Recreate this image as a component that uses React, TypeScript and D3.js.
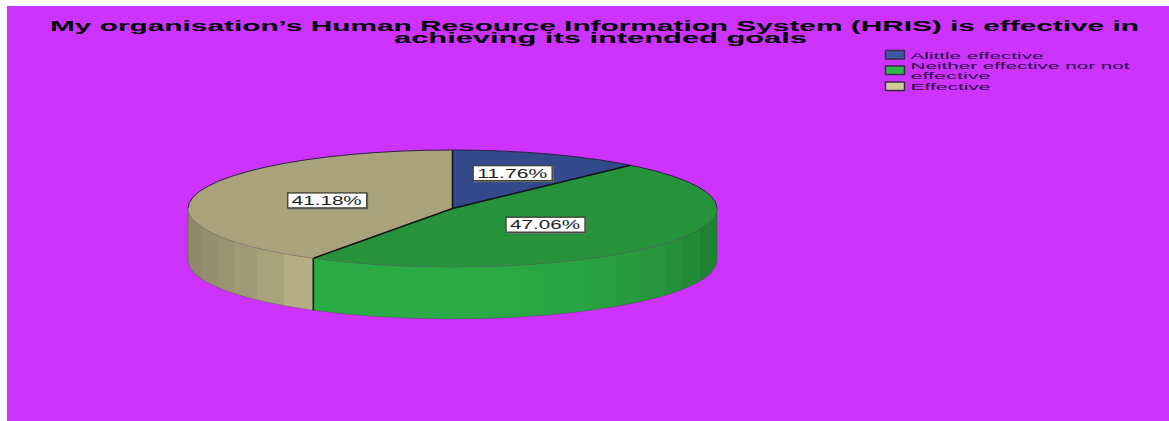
import React from "react";
import * as d3 from "d3";

// Survey responses, in drawing order (clockwise from twelve o'clock)
const categories = ["Alittle effective", "Neither effective nor not effective", "Effective"];
const percentages = [11.76, 47.06, 41.18];
const titleLines = [
  "My organisation\u2019s Human Resource Information System (HRIS) is effective in",
  "achieving its intended goals",
];
const legendLines = [["Alittle effective"], ["Neither effective nor not", "effective"], ["Effective"]];

const W = 1169;
const H = 421;
const cx = 452.5;
const cy = 208.5;
const rx = 264.5;
const ry = 58.5;
const depth = 52;

const topColors = ["#324a8c", "#26933c", "#a9a27a"];
const swatchColors = ["#3d5aa6", "#2db84b", "#d2ca98"];
// Pixel nudges that keep each value label clear of the slice edges
const labelNudge = [[0, -1], [-40, -6], [35, 2]];

// Hard-stop shading bands for the visible rim, given as [x, colour]
const rimBands: [number, string][] = [
  [188, "#8f8a68"], [202, "#94906d"], [217, "#9a9571"], [235, "#a09b76"], [257, "#a8a27b"],
  [284, "#b6af85"], [313, "#2aab45"], [487, "#2aa944"], [520, "#2aa743"], [550, "#29a442"],
  [585, "#28a040"], [615, "#279b3e"], [640, "#26953c"], [665, "#25903a"], [682, "#238a38"],
  [700, "#208233"], [717, "#208233"],
];

const pie = d3.pie<number>().sort(null).value((d) => d);
const arcs = pie(percentages);

// Unit-circle angle to a point on the flattened disc; 0 is up, angles run clockwise
const px = d3.scaleLinear().domain([-1, 1]).range([cx - rx, cx + rx]);
const py = d3.scaleLinear().domain([-1, 1]).range([cy - ry, cy + ry]);
const pt = (a: number, r = 1, dy = 0): [number, number] => [px(r * Math.sin(a)), py(-r * Math.cos(a)) + dy];

const sliceTop = (a0: number, a1: number) => {
  const [x0, y0] = pt(a0);
  const [x1, y1] = pt(a1);
  const large = a1 - a0 > Math.PI ? 1 : 0;
  return `M${cx},${cy}L${x0},${y0}A${rx},${ry} 0 ${large} 1 ${x1},${y1}Z`;
};

const rimPath = (a0: number, a1: number) => {
  const [x0, y0] = pt(a0);
  const [x1, y1] = pt(a1);
  return `M${x0},${y0}A${rx},${ry} 0 0 1 ${x1},${y1}L${x1},${y1 + depth}A${rx},${ry} 0 0 0 ${x0},${y0 + depth}Z`;
};

const LabelBox = ({ x, y, text }: { x: number; y: number; text: string }) => (
  <g>
    <rect x={x - 39} y={y - 7} width={80} height={16} fill="#77776a" />
    <rect x={x - 39.5} y={y - 7.5} width={79} height={15} fill="#fff" stroke="#44443c" strokeWidth={1.4} />
    <text
      x={x - 35.5}
      y={y + 4.4}
      textLength={70}
      lengthAdjust="spacingAndGlyphs"
      fontFamily="Liberation Sans"
      fontSize={12}
      fill="#222"
    >
      {text}
    </text>
  </g>
);

export default function App() {
  const rimStops = rimBands.flatMap(([x, color], i) => {
    const next = rimBands[i + 1]?.[0] ?? x;
    const span = rimBands[rimBands.length - 1][0] - rimBands[0][0];
    const o = (v: number) => (v - rimBands[0][0]) / span;
    return [
      <stop key={`${i}a`} offset={o(x)} stopColor={color} />,
      <stop key={`${i}b`} offset={o(next)} stopColor={color} />,
    ];
  });

  // Rim segments for the parts of each slice facing the viewer
  const rims = arcs
    .map((a) => [Math.max(a.startAngle, Math.PI / 2), Math.min(a.endAngle, (3 * Math.PI) / 2)])
    .filter(([a0, a1]) => a1 > a0);

  const sliceBoundary = pt(arcs[2].startAngle);
  const centroids = arcs.map((a) => pt((a.startAngle + a.endAngle) / 2, 0.63));

  return (
    <svg
      width={W}
      height={H}
      viewBox={`0 0 ${W} ${H}`}
      style={{ position: "absolute", left: 0, top: 0, background: "#fff" }}
    >
      <defs>
        <linearGradient id="rim" gradientUnits="userSpaceOnUse" x1={188} x2={717} y1={0} y2={0}>
          {rimStops}
        </linearGradient>
      </defs>
      <rect x={7} y={6} width={W - 7} height={H - 6} fill="#cc33ff" />

      {titleLines.map((line, i) => (
        <text
          key={line}
          x={i === 0 ? 50 : 394}
          y={i === 0 ? 30.5 : 43}
          textLength={i === 0 ? 1089 : 413}
          lengthAdjust="spacingAndGlyphs"
          fontFamily="Liberation Sans"
          fontWeight="bold"
          fontSize={14.5}
          fill="#000"
        >
          {line}
        </text>
      ))}

      {categories.map((c, i) => (
        <rect
          key={c}
          x={885.5}
          y={[50.5, 66, 82][i]}
          width={19}
          height={8.5}
          fill={swatchColors[i]}
          stroke="#3a2a4a"
          strokeWidth={1.5}
        />
      ))}
      {legendLines.flatMap((lines, i) =>
        lines.map((line, j) => (
          <text
            key={line + i}
            x={910.5}
            y={[[59], [69], [90]][i][j] ?? 79}
            textLength={[[133], [219, 80], [80]][i][j]}
            lengthAdjust="spacingAndGlyphs"
            fontFamily="Liberation Sans"
            fontSize={9.5}
            fill="#2a0a40"
          >
            {line}
          </text>
        ))
      )}

      {rims.map(([a0, a1]) => (
        <path key={a0} d={rimPath(a0, a1)} fill="url(#rim)" stroke="#3a3a30" strokeOpacity={0.6} strokeWidth={0.5} />
      ))}
      {/* divider on the rim where the green and tan slices meet */}
      <line
        x1={sliceBoundary[0]}
        y1={sliceBoundary[1]}
        x2={sliceBoundary[0]}
        y2={sliceBoundary[1] + depth}
        stroke="#111"
        strokeWidth={1.5}
      />

      {arcs.map((a, i) => (
        <path key={i} d={sliceTop(a.startAngle, a.endAngle)} fill={topColors[i]} stroke="none" />
      ))}
      {arcs.map((a, i) => {
        const [x0, y0] = pt(a.startAngle);
        return <line key={i} x1={cx} y1={cy} x2={x0} y2={y0} stroke="#111" strokeWidth={1.5} />;
      })}
      <path
        d={`M${cx - rx},${cy}A${rx},${ry} 0 0 1 ${cx + rx},${cy}`}
        fill="none"
        stroke="#2a2340"
        strokeWidth={1}
      />
      <path
        d={`M${cx - rx},${cy}A${rx},${ry} 0 0 0 ${cx + rx},${cy}`}
        fill="none"
        stroke="#3a3a30"
        strokeOpacity={0.25}
        strokeWidth={0.6}
      />

      {percentages.map((p, i) => (
        <LabelBox
          key={i}
          x={centroids[i][0] + labelNudge[i][0]}
          y={centroids[i][1] + labelNudge[i][1]}
          text={`${p.toFixed(2)}%`}
        />
      ))}
    </svg>
  );
}
